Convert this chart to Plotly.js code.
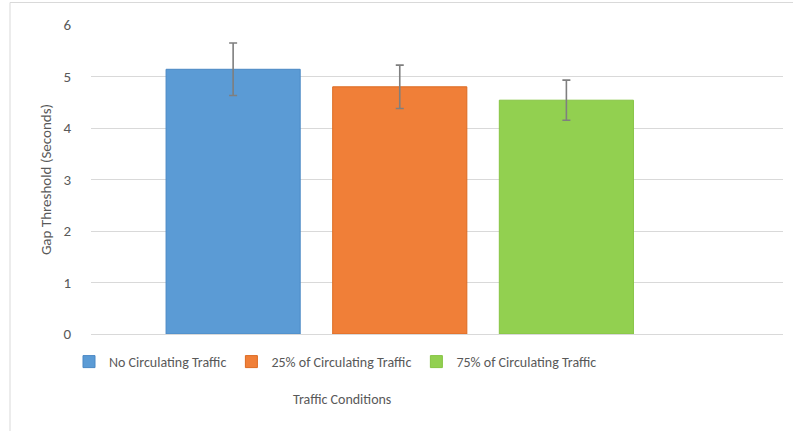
<!DOCTYPE html>
<html>
<head>
<meta charset="utf-8">
<script src="https://cdn.plot.ly/plotly-3.0.1.min.js"></script>
<style>html,body{margin:0;padding:0;background:#fff;}#chart{width:793px;height:431px;}</style>
</head>
<body>
<div id="chart"></div>
<script>
const seriesNames = ["No Circulating Traffic", "25% of Circulating Traffic", "75% of Circulating Traffic"];
const positions = [0, 1, 2];
const gapThreshold = [5.14, 4.80, 4.54];
const errorValues = [0.51, 0.42, 0.39];
const colors = ["#5b9bd5", "#f07f38", "#92d050"];
const lineColors = ["#4a88c4", "#dc6a22", "#86c443"];

const traces = seriesNames.map((name, i) => ({
  type: "bar",
  name: name,
  x: [positions[i]],
  y: [gapThreshold[i]],
  width: 0.805,
  marker: {color: colors[i], line: {color: lineColors[i], width: 1}},
  error_y: {type: "data", array: [errorValues[i]], visible: true, color: "#7f7f7f", thickness: 1.6, width: 4},
  hoverinfo: "y+name"
}));

const fam = "Carlito, Lato, 'Open Sans', sans-serif";
const gray = "#595959";

const layout = {
  width: 793, height: 431,
  margin: {l: 91, r: 10, t: 25, b: 97, autoexpand: false},
  paper_bgcolor: "#ffffff", plot_bgcolor: "#ffffff",
  barmode: "overlay",
  showlegend: true,
  font: {family: fam, color: gray},
  xaxis: {range: [-0.853, 3.30], showticklabels: false, showgrid: false, zeroline: false, showline: false, ticks: "", fixedrange: true},
  yaxis: {range: [0, 6], dtick: 1, tick0: 0, showgrid: true, gridcolor: "#d9d9d9", gridwidth: 1,
          zeroline: true, zerolinecolor: "#d9d9d9", zerolinewidth: 1, showline: false,
          ticks: "outside", ticklen: 16, tickcolor: "rgba(0,0,0,0)",
          tickfont: {family: fam, size: 15, color: gray},
          title: {text: "Gap Threshold (Seconds)", font: {family: fam, size: 15, color: gray}, standoff: 8}},
  legend: {orientation: "h", x: (69 - 91) / 692, xanchor: "left", y: (334 - 346) / 309, yanchor: "top",
           font: {family: fam, size: 14, color: gray}, itemwidth: 30, traceorder: "normal",
           bgcolor: "rgba(0,0,0,0)"},
  annotations: [{text: "Traffic Conditions", xref: "paper", yref: "paper", x: (342 - 91) / 692, y: (334 - 399) / 309,
                 xanchor: "center", yanchor: "middle", showarrow: false,
                 font: {family: fam, size: 14, color: gray}}],
  shapes: [
    {type: "line", xref: "paper", yref: "paper", x0: (10 - 91) / 692, x1: (10 - 91) / 692, y0: (334 - 440) / 309, y1: (334 - 2.5) / 309, line: {color: "#d9d9d9", width: 1}},
    {type: "line", xref: "paper", yref: "paper", x0: (10 - 91) / 692, x1: (800 - 91) / 692, y0: (334 - 2.5) / 309, y1: (334 - 2.5) / 309, line: {color: "#d9d9d9", width: 1}}
  ]
};

Plotly.newPlot("chart", traces, layout, {displayModeBar: false, staticPlot: true});
</script>
</body>
</html>
